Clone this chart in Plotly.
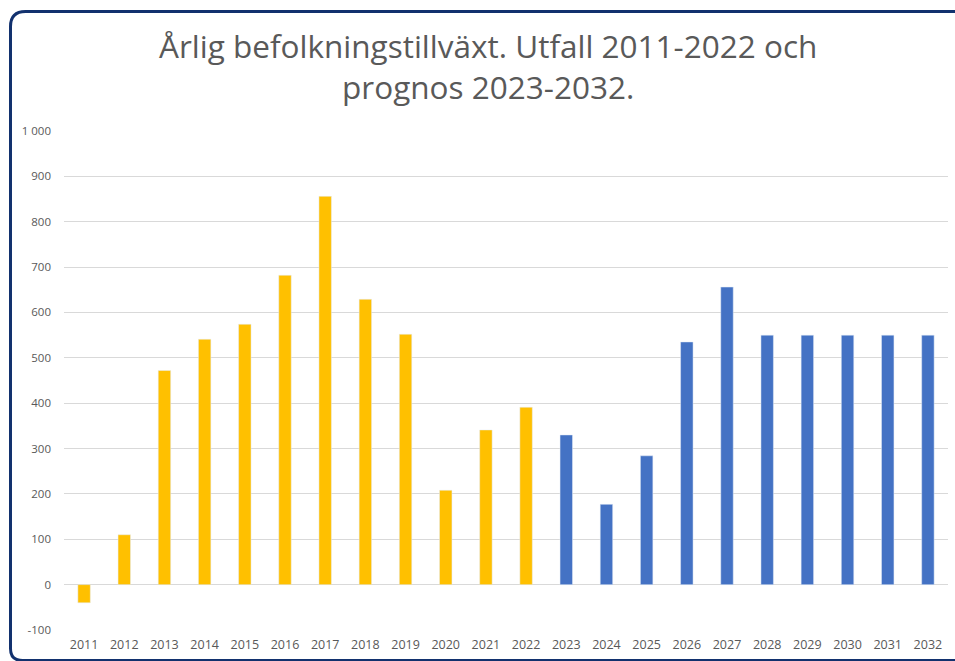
import plotly.graph_objects as go

years = [str(y) for y in range(2011, 2033)]
utfall_years = years[:12]
utfall_values = [-40, 110, 472, 541, 574, 682, 856, 629, 552, 208, 341, 391]
prognos_years = years[12:]
prognos_values = [330, 177, 284, 535, 656, 550, 550, 550, 550, 550]

y_tickvals = [-100, 0, 100, 200, 300, 400, 500, 600, 700, 800, 900, 1000]
y_ticktext = ["-100", "0", "100", "200", "300", "400", "500", "600", "700", "800", "900", "1 000"]

title_line1 = "Årlig befolkningstillväxt. Utfall 2011-2022 och"
title_line2 = "prognos 2023-2032."

W, H = 955, 661
L, R, T, B = 64, 7, 131, 31
pw, ph = W - L - R, H - T - B

def px(x):
    return (x - L) / pw

def py(y):
    return (H - B - y) / ph

fig = go.Figure()
fig.add_trace(go.Bar(x=utfall_years, y=utfall_values, marker=dict(color="#FFC000"),
                     name="Utfall", showlegend=False))
fig.add_trace(go.Bar(x=prognos_years, y=prognos_values, marker=dict(color="#4472C4"),
                     name="Prognos", showlegend=False))

# rounded border
x0, y0, x1, y1, r = 10.5, 11.5, 965, 660.5, 15
path = (f"M {px(x0)},{py(y0 + r)} "
        f"Q {px(x0)},{py(y0)} {px(x0 + r)},{py(y0)} "
        f"L {px(x1)},{py(y0)} "
        f"M {px(x0)},{py(y0 + r)} "
        f"L {px(x0)},{py(y1 - 12)} "
        f"Q {px(x0)},{py(y1)} {px(x0 + 12)},{py(y1)} "
        f"L {px(x1)},{py(y1)}")
fig.add_shape(type="path", path=path, xref="paper", yref="paper",
              line=dict(color="#12316E", width=3))

font_title = dict(family="Open Sans, sans-serif", size=31.5, color="#595959")
fig.add_annotation(text=title_line1 + "<br>" + title_line2, x=px(488), y=py(66),
                   xref="paper", yref="paper", align="center",
                   xanchor="center", yanchor="middle", showarrow=False, font=font_title)

fig.update_layout(
    width=W, height=H,
    margin=dict(l=L, r=R, t=T, b=B, pad=0),
    paper_bgcolor="white", plot_bgcolor="white",
    bargap=0.69,
    barmode="relative",
    xaxis=dict(type="category", categoryorder="array", categoryarray=years,
               showgrid=False, showline=False, zeroline=False, ticks="",
               tickfont=dict(family="Open Sans, sans-serif", size=12.5, color="#595959"),
               ticklabelstandoff=5),
    yaxis=dict(range=[-100, 1000], tickvals=y_tickvals, ticktext=y_ticktext,
               showgrid=True, gridcolor="#D9D9D9", gridwidth=1,
               zeroline=True, zerolinecolor="#D9D9D9", zerolinewidth=1,
               showline=False, ticks="",
               tickfont=dict(family="Open Sans, sans-serif", size=11.5, color="#595959"),
               ticklabelstandoff=12),
    font=dict(family="Open Sans, sans-serif", color="#595959"),
)

fig.write_html("out.html", config={"displayModeBar": False},
               post_script="document.body.style.margin='0';")
